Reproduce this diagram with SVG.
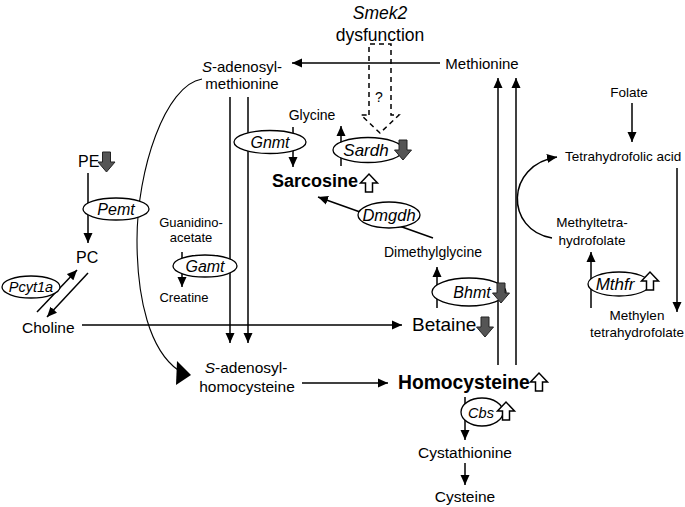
<svg xmlns="http://www.w3.org/2000/svg" width="685" height="507" viewBox="0 0 685 507">
<style>
text{font-family:"Liberation Sans",Arial,sans-serif;fill:#000}
.m{text-anchor:middle}
.s13{font-size:13.5px}
.s14{font-size:14px}
.s15{font-size:15.5px}
.g{font-style:italic;font-size:16px;text-anchor:middle}
.b{font-weight:bold;font-size:18px}
.c line,.c path{stroke:#000;stroke-width:1.5;fill:none}
.a{marker-end:url(#ah)}
.e{fill:#fff;stroke:#000;stroke-width:1.3}
.dn{fill:#555;stroke:#222;stroke-width:1}
.up{fill:#fff;stroke:#000;stroke-width:1.5}
</style>
<defs>
<marker id="ah" viewBox="0 0 10 10" refX="10" refY="5" markerWidth="10" markerHeight="10" orient="auto" markerUnits="userSpaceOnUse">
<path d="M0,0.5 L10,5 L0,9.5 z" fill="#000"/>
</marker>
<path id="darr" d="M-4,-10 H4 V0 H8.5 L0,10 L-8.5,0 H-4 Z"/>
<path id="uarr" d="M-3.5,9 H3.5 V0 H8.5 L0,-9 L-8.5,0 H-3.5 Z"/>
</defs>
<rect width="685" height="507" fill="#fff"/>

<g id="connectors" class="c">
<line class="a" x1="440" y1="63" x2="292" y2="63"/>
<line class="a" x1="230" y1="97" x2="230" y2="343"/>
<line class="a" x1="248" y1="97" x2="248" y2="343"/>
<line class="a" x1="293" y1="127" x2="293" y2="167"/>
<line class="a" x1="341" y1="166" x2="341" y2="126"/>
<line class="a" x1="433" y1="238" x2="318" y2="197"/>
<line class="a" x1="437" y1="308" x2="437" y2="267"/>
<line class="a" x1="82" y1="325" x2="402" y2="325"/>
<line class="a" x1="88" y1="173" x2="88" y2="243"/>
<line class="a" x1="37" y1="312" x2="77" y2="270"/>
<line class="a" x1="88" y1="273" x2="47" y2="317"/>
<line class="a" x1="182" y1="252" x2="182" y2="287"/>
<path d="M202,79 C165,85 137,170 137,240 C137,300 150,350 178,370" style="stroke-width:1.1"/>
<polygon points="177,361 191,375 176,385" fill="#000" stroke="none"/>
<line class="a" x1="302" y1="383" x2="388" y2="383"/>
<line class="a" x1="465" y1="397" x2="465" y2="440"/>
<line class="a" x1="465" y1="463" x2="465" y2="485"/>
<line class="a" x1="498" y1="365" x2="498" y2="78"/>
<line class="a" x1="516" y1="365" x2="516" y2="78"/>
<line class="a" x1="632" y1="103" x2="632" y2="142"/>
<line class="a" x1="677" y1="168" x2="677" y2="312"/>
<line class="a" x1="591" y1="308" x2="591" y2="252"/>
<path class="a" d="M552,238 C505,230 505,165 557,157"/>
<path d="M369,115 V44 H391 V115 H399 L380,133 L361,115 Z" stroke-dasharray="5,4" stroke-width="1.3"/>
</g>

<g id="smek2">
<text class="m" x="380" y="19" style="font-size:17.5px;font-style:italic">Smek2</text>
<text class="m" x="380" y="41" style="font-size:17.5px">dysfunction</text>
<text class="m s14" x="379" y="102">?</text>
</g>
<g id="sam">
<text class="m" x="242" y="72" style="font-size:15px"><tspan font-style="italic">S</tspan>-adenosyl-</text>
<text class="m" x="242" y="89" style="font-size:15px">methionine</text>
</g>
<g id="methionine"><text class="m" x="482" y="69" style="font-size:15px">Methionine</text></g>
<g id="glycine"><text class="m s14" x="312" y="120">Glycine</text></g>
<g id="gnmt"><ellipse class="e" cx="270" cy="142" rx="36" ry="11.5"/><text class="g" x="270" y="148">Gnmt</text></g>
<g id="sardh"><ellipse class="e" cx="368" cy="150" rx="35" ry="12.5"/><text class="g" x="366" y="156" style="font-size:17px">Sardh</text>
<use href="#darr" class="dn" x="403" y="150"/></g>
<g id="sarcosine"><text class="b" x="272" y="187">Sarcosine</text><use href="#uarr" class="up" x="369" y="183"/></g>
<g id="dmgdh"><ellipse class="e" cx="389" cy="215" rx="31" ry="13"/><text class="g" x="389" y="221" style="font-size:16.5px">Dmgdh</text></g>
<g id="dimethylglycine"><text class="m s14" x="433" y="257">Dimethylglycine</text></g>
<g id="bhmt"><ellipse class="e" cx="469" cy="292" rx="37" ry="14"/><text class="g" x="472" y="298">Bhmt</text>
<use href="#darr" class="dn" x="501" y="293"/></g>
<g id="betaine"><text x="412" y="331" style="font-size:19px">Betaine</text><use href="#darr" class="dn" x="485" y="327"/></g>
<g id="pe"><text x="78" y="167" style="font-size:16px">PE</text><use href="#darr" class="dn" x="106.5" y="162"/></g>
<g id="pemt"><ellipse class="e" cx="116" cy="209" rx="33" ry="11"/><text class="g" x="116" y="215">Pemt</text></g>
<g id="pc"><text x="76" y="263" style="font-size:16px">PC</text></g>
<g id="pcyt1a"><ellipse class="e" cx="31" cy="287" rx="29" ry="11"/><text class="g" x="31" y="292" style="font-size:14.5px">Pcyt1a</text></g>
<g id="choline"><text class="s15" x="22" y="333">Choline</text></g>
<g id="guanidinoacetate">
<text class="m" x="191" y="227" style="font-size:13px">Guanidino-</text>
<text class="m" x="191" y="242" style="font-size:13px">acetate</text>
</g>
<g id="gamt"><ellipse class="e" cx="205" cy="266" rx="32" ry="11"/><text class="g" x="205" y="272">Gamt</text></g>
<g id="creatine"><text class="m" x="184" y="302" style="font-size:13px">Creatine</text></g>
<g id="sah">
<text class="m s15" x="246" y="373"><tspan font-style="italic">S</tspan>-adenosyl-</text>
<text class="m s15" x="247" y="392">homocysteine</text>
</g>
<g id="homocysteine"><text class="b" x="398" y="389" style="font-size:19.3px">Homocysteine</text><use href="#uarr" class="up" x="539" y="382"/></g>
<g id="cbs"><ellipse class="e" cx="482" cy="412" rx="21" ry="14"/><text class="g" x="481" y="418" style="font-size:14.5px">Cbs</text>
<use href="#uarr" class="up" x="506" y="411"/></g>
<g id="cystathionine"><text class="m s15" x="465" y="458">Cystathionine</text></g>
<g id="cysteine"><text class="m s15" x="465" y="502">Cysteine</text></g>
<g id="folate"><text class="m s13" x="629" y="97">Folate</text></g>
<g id="thf"><text class="s13" x="565" y="161">Tetrahydrofolic acid</text></g>
<g id="methylthf">
<text class="m s13" x="592" y="227">Methyltetra-</text>
<text class="m s13" x="592" y="245">hydrofolate</text>
</g>
<g id="mthfr"><ellipse class="e" cx="619" cy="284" rx="31" ry="12"/><text class="g" x="615" y="290" style="font-size:17px">Mthfr</text>
<use href="#uarr" class="up" x="650" y="281"/></g>
<g id="methylenthf">
<text class="m s13" x="637" y="320">Methylen</text>
<text class="m s13" x="637" y="337">tetrahydrofolate</text>
</g>
</svg>
